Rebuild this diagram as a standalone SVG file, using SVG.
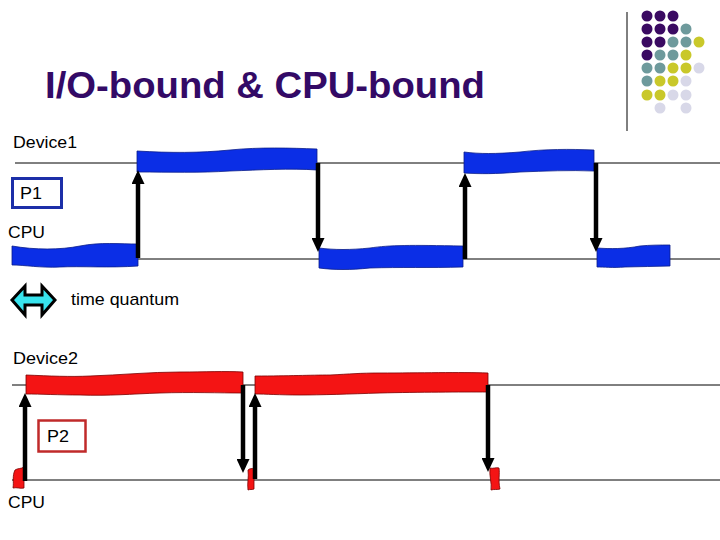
<svg xmlns="http://www.w3.org/2000/svg" width="720" height="540" viewBox="0 0 720 540">
<style>
text{font-family:"Liberation Sans",Arial,sans-serif;fill:#000}
.title{font-size:37px;font-weight:bold;fill:#330a66}
.lbl{font-size:17px}
.axis{stroke:#000;stroke-width:1;fill:none}
.blue{fill:#0b2ee6;stroke:#0a1d8a;stroke-width:0.8}
.red{fill:#f41414;stroke:#7a0000;stroke-width:0.8}
.arr{stroke:#000;stroke-width:4.5;fill:none;marker-end:url(#head)}
.pu{fill:#3a0a62}.te{fill:#6e9a9c}.ye{fill:#c9c82a}.li{fill:#d8d8e8}
</style>
<defs>
<marker id="head" viewBox="0 0 14 13" refX="0" refY="6.5" markerWidth="14" markerHeight="13" markerUnits="userSpaceOnUse" orient="auto">
<path d="M0,0 L14,6.5 L0,13 Z" fill="#000"/>
</marker>
</defs>
<rect width="720" height="540" fill="#fff"/>

<g id="decor">
<line x1="627" y1="12" x2="627" y2="131" stroke="#000" stroke-width="1"/>
<circle class="pu" cx="647" cy="16" r="5.5"/><circle class="pu" cx="660" cy="16" r="5.5"/><circle class="pu" cx="673" cy="16" r="5.5"/>
<circle class="pu" cx="647" cy="29" r="5.5"/><circle class="pu" cx="660" cy="29" r="5.5"/><circle class="pu" cx="673" cy="29" r="5.5"/><circle class="te" cx="686" cy="29" r="5.5"/>
<circle class="pu" cx="647" cy="42" r="5.5"/><circle class="pu" cx="660" cy="42" r="5.5"/><circle class="te" cx="673" cy="42" r="5.5"/><circle class="te" cx="686" cy="42" r="5.5"/><circle class="ye" cx="699" cy="42" r="5.5"/>
<circle class="pu" cx="647" cy="55" r="5.5"/><circle class="te" cx="660" cy="55" r="5.5"/><circle class="te" cx="673" cy="55" r="5.5"/><circle class="ye" cx="686" cy="55" r="5.5"/>
<circle class="te" cx="647" cy="68" r="5.5"/><circle class="te" cx="660" cy="68" r="5.5"/><circle class="ye" cx="673" cy="68" r="5.5"/><circle class="ye" cx="686" cy="68" r="5.5"/><circle class="li" cx="699" cy="68" r="5.5"/>
<circle class="te" cx="647" cy="81" r="5.5"/><circle class="ye" cx="660" cy="81" r="5.5"/><circle class="ye" cx="673" cy="81" r="5.5"/><circle class="li" cx="686" cy="81" r="5.5"/>
<circle class="ye" cx="647" cy="95" r="5.5"/><circle class="ye" cx="660" cy="95" r="5.5"/><circle class="li" cx="673" cy="95" r="5.5"/><circle class="li" cx="686" cy="95" r="5.5"/>
<circle class="li" cx="660" cy="108" r="5.5"/><circle class="li" cx="686" cy="108" r="5.5"/>
</g>

<g id="title"><text class="title" x="45" y="98" textLength="440" lengthAdjust="spacingAndGlyphs">I/O-bound &amp; CPU-bound</text></g>

<g id="axes">
<line class="axis" x1="15" y1="163" x2="720" y2="163"/>
<line class="axis" x1="12" y1="259" x2="720" y2="259"/>
<line class="axis" x1="12" y1="385" x2="720" y2="385"/>
<line class="axis" x1="12" y1="480" x2="720" y2="480"/>
</g>

<g id="p1-bars">
<path class="blue" d="M12,246 C35,250 60,250 80,246 C100,242 120,244 138,244 L138,266 C110,268 80,266 60,267 C40,268 25,265 12,265 Z"/>
<path class="blue" d="M137,151 C170,153 200,153 230,150 C260,147 290,148 317,149 L317,170 C290,168 260,170 230,171 C200,173 170,172 137,172 Z"/>
<path class="blue" d="M319,248 C335,250 350,250 370,248 C390,245 410,245 463,246 L463,267 C430,268 400,267 370,268 C350,270 335,270 319,268 Z"/>
<path class="blue" d="M464,152 C480,154 495,154 520,152 C545,149 570,149 594,150 L594,171 C570,170 545,171 520,172 C495,174 480,174 464,173 Z"/>
<path class="blue" d="M597,248 C610,249 625,249 640,246 C650,245 660,245 670,245 L670,266 C655,266 640,267 625,267 C612,268 604,267 597,267 Z"/>
</g>

<g id="p2-bars">
<path class="red" d="M26,375 C50,376 70,377 90,376 C120,375 150,372 180,372 C205,372 225,371 243,372 L243,393 C220,393 190,392 160,393 C130,394 110,396 80,395 C60,395 40,394 26,394 Z"/>
<path class="red" d="M255,376 C290,376 310,375 330,375 C350,374 360,373 380,373 C420,373 460,372 488,373 L488,392 C460,392 420,392 380,393 C350,394 320,395 300,395 C280,395 265,394 255,394 Z"/>
<path class="red" d="M15,470 C18,468 21,469 24,467 L24,488 C20,489 17,487 13,488 C14,482 12,476 15,470 Z"/>
<path class="red" d="M248,470 C250,468 252,469 254,468 L254,489 C252,490 250,489 248,490 C247,483 249,477 248,470 Z"/>
<path class="red" d="M490,468 C493,469 496,467 499,468 C500,474 498,480 500,489 C497,490 494,489 491,490 C492,483 489,476 490,468 Z"/>
</g>

<g id="connectors">
<line class="arr" x1="138" y1="258" x2="138" y2="184"/>
<line class="arr" x1="318" y1="163" x2="318" y2="238"/>
<line class="arr" x1="465" y1="259" x2="465" y2="187"/>
<line class="arr" x1="596" y1="163" x2="596" y2="238"/>
<line class="arr" x1="25" y1="481" x2="25" y2="407"/>
<line class="arr" x1="243" y1="385" x2="243" y2="459"/>
<line class="arr" x1="255" y1="479" x2="255" y2="407"/>
<line class="arr" x1="488" y1="385" x2="488" y2="458"/>
</g>

<g id="labels">
<text class="lbl" x="13" y="148" textLength="64" lengthAdjust="spacingAndGlyphs">Device1</text>
<text class="lbl" x="8" y="238" textLength="37" lengthAdjust="spacingAndGlyphs">CPU</text>
<text class="lbl" x="13" y="364" textLength="65" lengthAdjust="spacingAndGlyphs">Device2</text>
<text class="lbl" x="8" y="508" textLength="37" lengthAdjust="spacingAndGlyphs">CPU</text>
</g>

<g id="p1">
<rect x="12.5" y="178.5" width="49" height="29" fill="none" stroke="#1c2fa8" stroke-width="3"/>
<text class="lbl" x="20" y="199" textLength="22" lengthAdjust="spacingAndGlyphs">P1</text>
</g>

<g id="p2">
<rect x="38.5" y="420.5" width="47" height="31" fill="none" stroke="#c02a2a" stroke-width="2.5"/>
<text class="lbl" x="47" y="442" textLength="22" lengthAdjust="spacingAndGlyphs">P2</text>
</g>

<g id="legend">
<polygon points="12,300 25,286 25,295 42,295 42,286 55,300 42,315 42,305 25,305 25,315" fill="#38e4ee" stroke="#000" stroke-width="3" stroke-linejoin="miter"/>
<text class="lbl" x="71" y="305" textLength="108" lengthAdjust="spacingAndGlyphs">time quantum</text>
</g>
</svg>
